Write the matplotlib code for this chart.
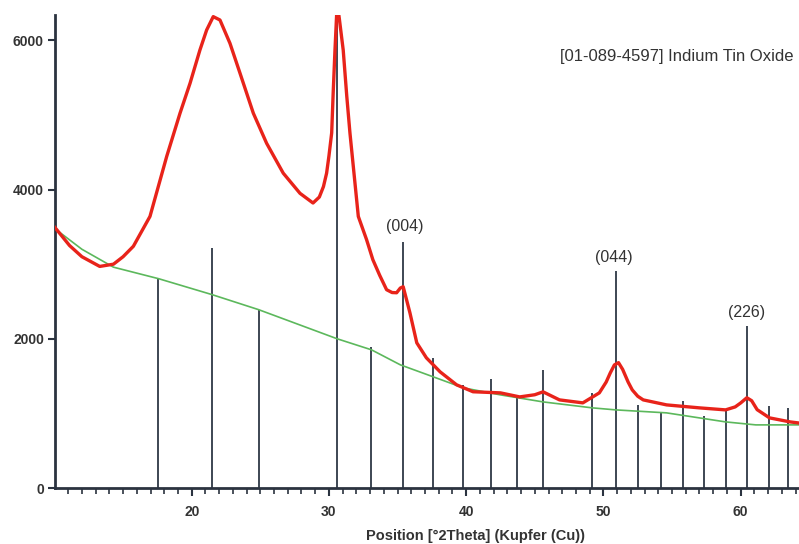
import numpy as np
import matplotlib
matplotlib.use("Agg")
import matplotlib.pyplot as plt
from matplotlib.ticker import MultipleLocator

plt.rcParams['font.family'] = ['Liberation Sans', 'DejaVu Sans']

theta = [10.0, 11.1, 12.0, 13.3, 14.3, 15.0, 15.75, 16.96, 18.18, 19.15, 19.88,
         20.6, 21.09, 21.57, 22.06, 22.79, 23.52, 24.49, 25.46, 26.67, 27.89,
         28.84, 29.3, 29.6, 29.83, 30.0, 30.2, 30.31, 30.44, 30.6, 30.75, 31.04,
         31.3, 31.53, 32.14, 32.74, 33.2, 33.7, 34.2, 34.6, 34.93, 35.2, 35.41,
         35.9, 36.4, 37.1, 38.1, 39.3, 40.5, 42.5, 43.9, 45.0, 45.6, 46.8, 48.5,
         49.7, 50.2, 50.5, 50.8, 51.1, 51.4, 51.8, 52.1, 52.5, 52.9, 54.6, 57.0,
         58.9, 59.6, 60.0, 60.45, 60.8, 61.2, 62.1, 63.6, 64.3]
counts = [3500, 3250, 3100, 2970, 3000, 3100, 3240, 3640, 4445, 5024, 5425,
          5871, 6139, 6318, 6273, 5960, 5560, 5024, 4620, 4220, 3950,
          3820, 3900, 4040, 4220, 4450, 4760, 5300, 5870, 6500, 6300, 5870,
          5250, 4760, 3640, 3330, 3060, 2850, 2658, 2620, 2617, 2680, 2698,
          2349, 1946, 1745, 1557, 1383, 1290, 1275, 1221, 1250, 1289, 1181, 1141,
          1275, 1420, 1543, 1650, 1680, 1590, 1420, 1315, 1230, 1181, 1114, 1074,
          1047, 1087, 1140, 1210, 1170, 1050, 940, 886, 870]

# fitted background
bg_theta = [10.0, 12.0, 14.3, 17.6, 21.5, 24.9, 30.6, 33.1, 35.2, 37.6, 39.8,
            42.5, 45.6, 49.2, 50.9, 54.6, 58.9, 61.1, 64.3]
bg_counts = [3480, 3200, 2960, 2805, 2591, 2389, 2000, 1852, 1651, 1490, 1342,
             1248, 1154, 1074, 1047, 1007, 886, 846, 846]

# reference card 01-089-4597 sticks
ref_pos = [17.57, 21.46, 24.9, 30.56, 33.06, 35.37, 37.6, 39.74, 41.78, 43.67,
           45.61, 49.18, 50.88, 52.5, 54.23, 55.8, 57.33, 58.9, 60.47, 62.03, 63.45]
ref_int = [2805, 3221, 2389, 6600, 1893, 3302, 1745, 1383, 1463, 1235,
           1584, 1275, 2913, 1114, 1007, 1168, 966, 1047, 2174, 1101, 1074]

hkl_labels = ["(004)", "(044)", "(226)"]
hkl_pos = [35.55, 50.77, 60.45]
hkl_y = [3500, 3090, 2350]

fig = plt.figure(figsize=(7.99, 5.44), dpi=100)
ax = fig.add_axes([55 / 799, 1 - 488 / 544, 1 - 55 / 799, (488 - 15) / 544])

ax.vlines(ref_pos, 0, ref_int, color='#3d4653', linewidth=1.4, zorder=1)
ax.plot(bg_theta, bg_counts, color='#5cb85c', linewidth=1.2, zorder=2)
ax.plot(theta, counts, color='#e8231a', linewidth=2.4, zorder=3,
        solid_joinstyle='round')

for lab, x, y in zip(hkl_labels, hkl_pos, hkl_y):
    ax.text(x, y, lab, ha='center', va='center', fontsize=11.5, color='#333333')

ax.set_xlim(10.04, 64.25)
ax.set_ylim(0, 6340)
ax.xaxis.set_major_locator(MultipleLocator(10))
ax.xaxis.set_minor_locator(MultipleLocator(1))
ax.set_yticks([0, 2000, 4000, 6000])

for s in ['top', 'right']:
    ax.spines[s].set_visible(False)
for s in ['left', 'bottom']:
    ax.spines[s].set_linewidth(2)
    ax.spines[s].set_color('#2b3340')

ax.tick_params(axis='both', which='major', color='#2b3340', width=1.5,
               labelsize=10, labelcolor='#333333')
ax.tick_params(axis='x', which='major', length=6, pad=6)
ax.tick_params(axis='x', which='minor', length=4, width=1.2, color='#2b3340')
ax.tick_params(axis='y', which='major', length=5, pad=3)
for lbl in ax.get_xticklabels() + ax.get_yticklabels():
    lbl.set_fontweight('bold')

fig.text(476 / 799, 1 - 536 / 544, "Position [°2Theta] (Kupfer (Cu))",
         ha='center', va='center', fontsize=10.5, fontweight='bold', color='#333333')
fig.text(793 / 799, 1 - 57 / 544, "[01-089-4597] Indium Tin Oxide",
         ha='right', va='center', fontsize=12, color='#333333')

fig.savefig("out.png", dpi=100)
